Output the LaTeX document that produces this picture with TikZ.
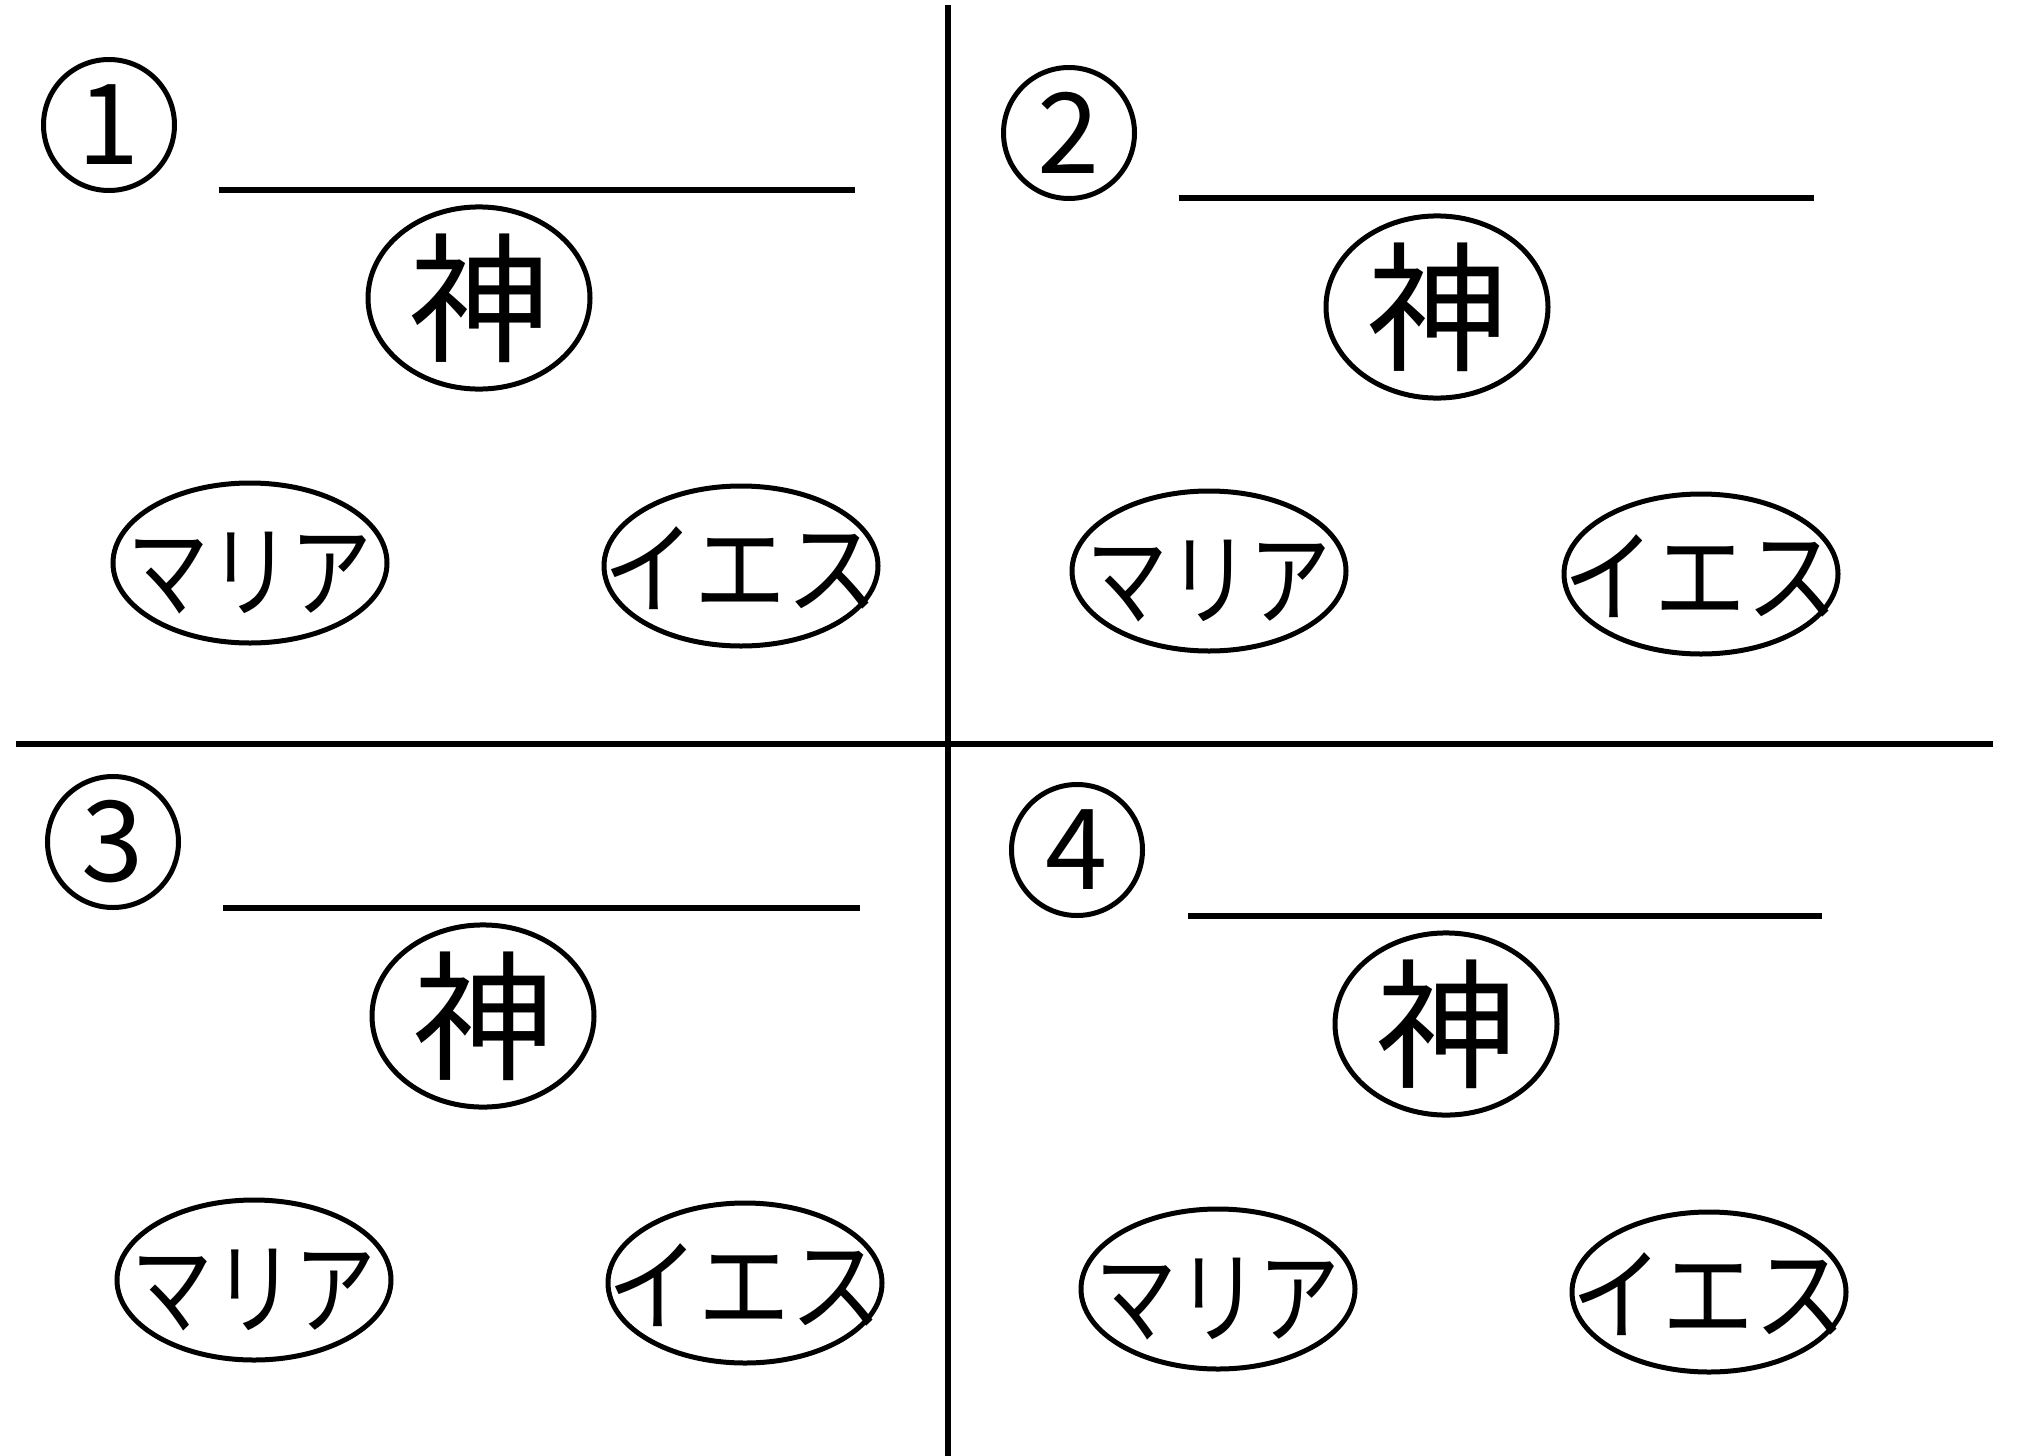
\documentclass[tikz,border=0pt]{standalone}
\usepackage{fontspec}
\newfontfamily\jp{Noto Sans CJK JP}
\usetikzlibrary{shapes.geometric}
\newcommand{\maria}{\scalebox{0.8}[1]{マリア}}
\newcommand{\iesu}{\scalebox{0.9}[1]{イエス}}
\begin{document}
\begin{tikzpicture}[x=1pt,y=-1pt,
  rule/.style={line width=5.5pt, black},
  blank/.style={line width=5.5pt, black},
  numc/.style={draw, circle, line width=5pt, minimum size=131pt, inner sep=0pt, font=\jp\fontsize{112}{112}\selectfont},
  kami/.style={draw, ellipse, line width=5pt, minimum width=222pt, minimum height=164pt, inner sep=0pt, font=\jp\fontsize{140}{140}\selectfont},
  who/.style={draw, ellipse, line width=5pt, minimum width=274pt, minimum height=160pt, inner sep=0pt},
  mariatext/.style={label={[font=\jp\fontsize{102}{102}\selectfont, inner sep=0pt, yshift=-10pt]center:\maria}},
  iesutext/.style={label={[font=\jp\fontsize{102}{102}\selectfont, inner sep=0pt, yshift=-2pt]center:\iesu}},
]
\useasboundingbox (0,0) rectangle (2019,1456);
% dividers
\coordinate (vt) at (948,5);
\coordinate (vb) at (948,1456);
\coordinate (hl) at (16,744);
\coordinate (hr) at (1993,744);
\draw[rule] (vt) -- (vb);
\draw[rule] (hl) -- (hr);
% panel 1
\node[numc] (n1) at (109,125) {1};
\coordinate (b1a) at (219,190); \coordinate (b1b) at (855,190);
\draw[blank] (b1a) -- (b1b);
\node[kami] (k1) at (479,298) {神};
\node[who, mariatext] (m1) at (250,563) {};
\node[who, iesutext] (j1) at (741,566) {};
% panel 2
\node[numc] (n2) at (1069,133) {2};
\coordinate (b2a) at (1179,198); \coordinate (b2b) at (1814,198);
\draw[blank] (b2a) -- (b2b);
\node[kami] (k2) at (1437,307) {神};
\node[who, mariatext] (m2) at (1209,571) {};
\node[who, iesutext] (j2) at (1701,574) {};
% panel 3
\node[numc] (n3) at (113,842) {3};
\coordinate (b3a) at (223,908); \coordinate (b3b) at (860,908);
\draw[blank] (b3a) -- (b3b);
\node[kami] (k3) at (483,1016) {神};
\node[who, mariatext] (m3) at (254,1280) {};
\node[who, iesutext] (j3) at (745,1283) {};
% panel 4
\node[numc] (n4) at (1077,850) {4};
\coordinate (b4a) at (1188,916); \coordinate (b4b) at (1822,916);
\draw[blank] (b4a) -- (b4b);
\node[kami] (k4) at (1446,1024) {神};
\node[who, mariatext] (m4) at (1218,1289) {};
\node[who, iesutext] (j4) at (1709,1292) {};
\end{tikzpicture}
\end{document}
